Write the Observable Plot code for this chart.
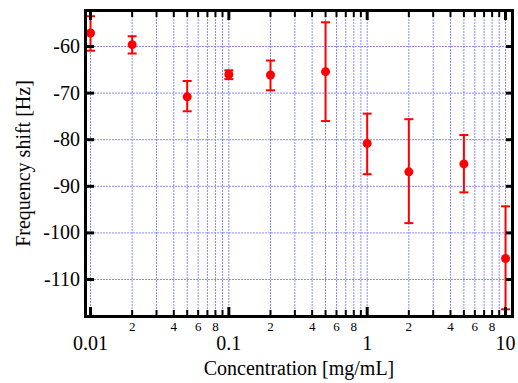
<!DOCTYPE html>
<html>
<head>
<meta charset="utf-8">
<script src="https://cdn.jsdelivr.net/npm/d3@7"></script>
<script src="https://cdn.jsdelivr.net/npm/@observablehq/plot@0.6"></script>
<style>
  html, body { margin: 0; padding: 0; background: #fff; }
  #chart svg { display: block; }
</style>
</head>
<body>
<div id="chart"></div>
<script>
// Data
const concentration = [0.01, 0.02, 0.05, 0.1, 0.2, 0.5, 1, 2, 5, 10];
const shift = [-57.1, -59.6, -70.8, -66.0, -66.1, -65.4, -80.8, -86.9, -85.2, -105.5];
const errLow = [-60.9, -61.5, -73.9, -67.0, -69.4, -76.0, -87.4, -97.9, -91.3, -116.4];
const errHigh = [-53.5, -57.8, -67.4, -65.1, -63.0, -54.8, -74.4, -75.6, -79.0, -94.3];

// Ticks
const yTicks = [-60, -70, -80, -90, -100, -110];
const majorX = [0.01, 0.1, 1, 10];
const minorX = [0.02, 0.03, 0.04, 0.05, 0.06, 0.07, 0.08, 0.09,
                0.2, 0.3, 0.4, 0.5, 0.6, 0.7, 0.8, 0.9,
                2, 3, 4, 5, 6, 7, 8, 9];
const minorLabelX = [0.02, 0.04, 0.06, 0.08, 0.2, 0.4, 0.6, 0.8, 2, 4, 6, 8];
const minorLabels = ["2", "4", "6", "8", "2", "4", "6", "8", "2", "4", "6", "8"];
const majorLabels = ["0.01", "0.1", "1", "10"];

const xTitle = "Concentration [mg/mL]";
const yTitle = "Frequency shift [Hz]";

const data = concentration.map((c, i) => ({x: c, y: shift[i], lo: errLow[i], hi: errHigh[i]}));
const gridX = [...majorX, ...minorX];

const W = 518, H = 383, mL = 85, mR = 6, mT = 10, mB = 67;

const font = "'Liberation Serif', 'Times New Roman', serif";
const grid = "#8a8aff";
const cap = {draw(ctx, size) { const w = Math.sqrt(size / Math.PI); ctx.moveTo(-w, 0); ctx.lineTo(w, 0); }};

const chart = Plot.plot({
  width: W,
  height: H,
  marginLeft: mL,
  marginRight: mR,
  marginTop: mT,
  marginBottom: mB,
  style: {fontFamily: font, background: "#fff", color: "#000"},
  x: {type: "log", domain: [0.0092, 11.23], axis: null},
  y: {domain: [-117.94, -52.27], axis: null},
  marks: [
    Plot.ruleX(gridX, {stroke: grid, strokeWidth: 1, strokeDasharray: "2,1"}),
    Plot.ruleY(yTicks, {stroke: grid, strokeWidth: 1, strokeDasharray: "2,1"}),
    Plot.ruleX(data, {x: "x", y1: "lo", y2: "hi", stroke: "#ff0000", strokeWidth: 2}),
    Plot.dot(data, {x: "x", y: "lo", r: 4.5, stroke: "#ff0000", strokeWidth: 2, symbol: cap}),
    Plot.dot(data, {x: "x", y: "hi", r: 4.5, stroke: "#ff0000", strokeWidth: 2, symbol: cap}),
    Plot.dot(data, {x: "x", y: "y", r: 4.5, fill: "#ff0000"}),
    Plot.frame({stroke: "#000", strokeWidth: 3}),
    // inward ticks: drawn outward, then shifted inside the frame
    Plot.axisX({anchor: "bottom", ticks: majorX, tickSize: 9, dy: -9, strokeWidth: 3, stroke: "#000", tickFormat: () => "", label: null}),
    Plot.axisX({anchor: "bottom", ticks: minorX, tickSize: 6, dy: -6, strokeWidth: 2, stroke: "#000", tickFormat: () => "", label: null}),
    Plot.axisX({anchor: "top", ticks: majorX, tickSize: 9, dy: 9, strokeWidth: 3, stroke: "#000", tickFormat: () => "", label: null}),
    Plot.axisX({anchor: "top", ticks: minorX, tickSize: 6, dy: 6, strokeWidth: 2, stroke: "#000", tickFormat: () => "", label: null}),
    Plot.axisY({anchor: "left", ticks: yTicks, tickSize: 9, dx: 9, strokeWidth: 3, stroke: "#000", tickFormat: () => "", label: null}),
    Plot.axisY({anchor: "right", ticks: yTicks, tickSize: 7, dx: -7, strokeWidth: 3, stroke: "#000", tickFormat: () => "", label: null}),
    // tick labels
    Plot.text(minorLabelX, {x: d => d, text: minorLabels, frameAnchor: "bottom", dy: 5.5, lineAnchor: "top",
      textAnchor: "middle", fontSize: 13, fill: "#000"}),
    Plot.text(majorX, {x: d => d, text: majorLabels, frameAnchor: "bottom", dy: 19, lineAnchor: "top",
      textAnchor: "middle", fontSize: 20, fill: "#000"}),
    Plot.text(yTicks, {y: d => d, text: d => String(d), frameAnchor: "left", dx: -5.5, lineAnchor: "middle",
      textAnchor: "end", fontSize: 20, fill: "#000"}),
    // axis titles
    Plot.text([xTitle], {frameAnchor: "bottom", dy: 52, lineAnchor: "middle", textAnchor: "middle", fontSize: 20, fill: "#000"}),
    Plot.text([yTitle], {frameAnchor: "left", dx: -62, rotate: -90, lineAnchor: "middle", textAnchor: "middle", fontSize: 20, fill: "#000"})
  ]
});
document.getElementById("chart").appendChild(chart);
</script>
</body>
</html>
